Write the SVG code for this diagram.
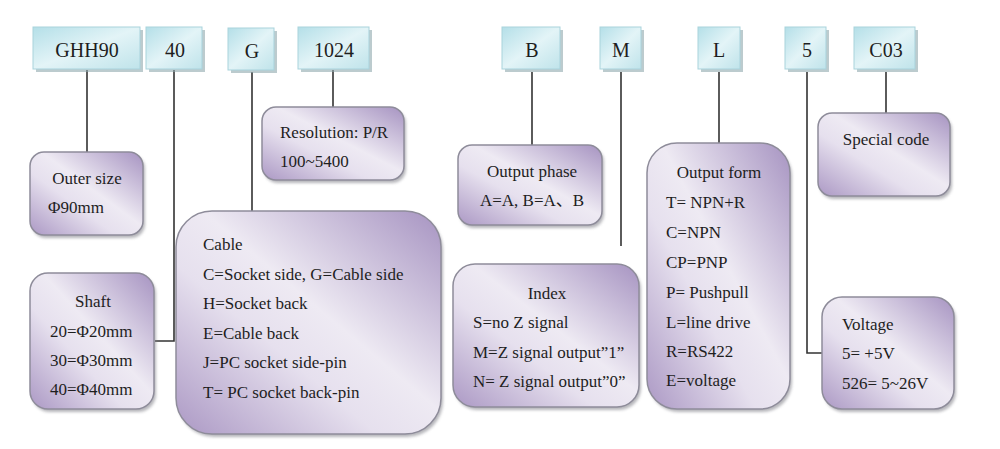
<svg xmlns="http://www.w3.org/2000/svg" width="1000" height="449" viewBox="0 0 1000 449">
<style>
text{font-family:"Liberation Serif",serif;fill:#1e1e1e}
.cjk{font-family:"Liberation Serif","Noto Sans CJK SC",serif}
.h{font-size:20px;text-anchor:middle}
.t{font-size:17px}
.c{text-anchor:middle}
.hb{fill:url(#cy);stroke:#a9d3dc;stroke-width:1}
.pb{fill:url(#pu);stroke:#8e8c9a;stroke-width:1.5}
.sh{fill:#85858d;opacity:.6;filter:url(#bl)}
.hs{fill:#8fa8ae;opacity:.6}
.ln{stroke:#333;stroke-width:1.6;fill:none}
</style>
<defs>
<linearGradient id="cy" x1="0" y1="0" x2="1" y2="1">
<stop offset="0" stop-color="#b4dfe8"/>
<stop offset="0.5" stop-color="#e3f4f7"/>
<stop offset="1" stop-color="#bfe3ea"/>
</linearGradient>
<linearGradient id="pu" x1="1" y1="0" x2="0" y2="1">
<stop offset="0" stop-color="#a693c1"/>
<stop offset="0.45" stop-color="#eeeaf3"/>
<stop offset="0.62" stop-color="#e6e0ee"/>
<stop offset="1" stop-color="#ab98c4"/>
</linearGradient>
<filter id="bl" x="-10%" y="-10%" width="120%" height="120%"><feGaussianBlur stdDeviation="1.5"/></filter>
</defs>
<rect width="1000" height="449" fill="#fff"/>

<g id="connectors">
<path class="ln" d="M87 70V152"/>
<path class="ln" d="M174 70V341H155"/>
<path class="ln" d="M252 72V211"/>
<path class="ln" d="M333 70V107"/>
<path class="ln" d="M532 72V145"/>
<path class="ln" d="M621 72V246"/>
<path class="ln" d="M719 72V143"/>
<path class="ln" d="M807 72V353H822"/>
<path class="ln" d="M886 72V113"/>
</g>

<g id="h-ghh90"><rect class="hs" x="36" y="30" width="107" height="42"/><rect class="hb" x="33" y="27" width="107" height="42"/><text class="h" x="87" y="57">GHH90</text></g>
<g id="h-40"><rect class="hs" x="149" y="30" width="56" height="42"/><rect class="hb" x="146" y="27" width="56" height="42"/><text class="h" x="175" y="57">40</text></g>
<g id="h-g"><rect class="hs" x="231" y="31" width="46" height="42"/><rect class="hb" x="228" y="28" width="46" height="42"/><text class="h" x="252" y="58">G</text></g>
<g id="h-1024"><rect class="hs" x="301" y="30" width="71" height="42"/><rect class="hb" x="298" y="27" width="71" height="42"/><text class="h" x="334" y="57">1024</text></g>
<g id="h-b"><rect class="hs" x="505" y="30" width="58" height="42"/><rect class="hb" x="502" y="27" width="58" height="42"/><text class="h" x="532" y="57">B</text></g>
<g id="h-m"><rect class="hs" x="603" y="30" width="41" height="42"/><rect class="hb" x="600" y="27" width="41" height="42"/><text class="h" x="621" y="57">M</text></g>
<g id="h-l"><rect class="hs" x="701" y="30" width="42" height="42"/><rect class="hb" x="698" y="27" width="42" height="42"/><text class="h" x="719" y="57">L</text></g>
<g id="h-5"><rect class="hs" x="788" y="30" width="41" height="42"/><rect class="hb" x="785" y="27" width="41" height="42"/><text class="h" x="807" y="57">5</text></g>
<g id="h-c03"><rect class="hs" x="857" y="30" width="61" height="42"/><rect class="hb" x="854" y="27" width="61" height="42"/><text class="h" x="886" y="57">C03</text></g>

<g id="outer-size"><rect class="sh" x="32" y="155" width="113" height="83" rx="14"/><rect class="pb" x="30" y="152" width="113" height="83" rx="14"/>
<text class="t c" x="87" y="184">Outer size</text><text class="t" x="48" y="213">Φ90mm</text></g>

<g id="shaft"><rect class="sh" x="32" y="276" width="124" height="136" rx="18"/><rect class="pb" x="30" y="273" width="124" height="136" rx="18"/>
<text class="t c" x="93" y="307">Shaft</text><text class="t" x="50" y="337">20=Φ20mm</text><text class="t" x="50" y="366">30=Φ30mm</text><text class="t" x="50" y="395">40=Φ40mm</text></g>

<g id="resolution"><rect class="sh" x="264" y="110" width="142" height="73" rx="14"/><rect class="pb" x="262" y="107" width="142" height="73" rx="14"/>
<text class="t" x="280" y="138">Resolution: P/R</text><text class="t" x="280" y="167">100~5400</text></g>

<g id="cable"><rect class="sh" x="178" y="214" width="265" height="223" rx="36"/><rect class="pb" x="176" y="211" width="265" height="223" rx="36"/>
<text class="t" x="203" y="250">Cable</text>
<text class="t" x="203" y="280">C=Socket side, G=Cable side</text>
<text class="t" x="203" y="309">H=Socket back</text>
<text class="t" x="203" y="339">E=Cable back</text>
<text class="t" x="203" y="368">J=PC socket side-pin</text>
<text class="t" x="203" y="398">T= PC socket back-pin</text></g>

<g id="output-phase"><rect class="sh" x="460" y="148" width="144" height="80" rx="14"/><rect class="pb" x="458" y="145" width="144" height="80" rx="14"/>
<text class="t c" x="532" y="177">Output phase</text><text class="t c cjk" x="532" y="206">A=A, B=A、B</text></g>

<g id="index"><rect class="sh" x="455" y="267" width="186" height="143" rx="22"/><rect class="pb" x="453" y="264" width="186" height="143" rx="22"/>
<text class="t c" x="547" y="299">Index</text>
<text class="t" x="473" y="328">S=no Z signal</text>
<text class="t" x="473" y="358">M=Z signal output”1”</text>
<text class="t" x="473" y="387">N= Z signal output”0”</text></g>

<g id="output-form"><rect class="sh" x="649" y="146" width="143" height="266" rx="30"/><rect class="pb" x="647" y="143" width="143" height="266" rx="30"/>
<text class="t c" x="719" y="178">Output form</text>
<text class="t" x="666" y="208">T= NPN+R</text>
<text class="t" x="666" y="238">C=NPN</text>
<text class="t" x="666" y="268">CP=PNP</text>
<text class="t" x="666" y="298">P= Pushpull</text>
<text class="t" x="666" y="328">L=line drive</text>
<text class="t" x="666" y="357">R=RS422</text>
<text class="t" x="666" y="386">E=voltage</text></g>

<g id="special-code"><rect class="sh" x="820" y="116" width="132" height="83" rx="14"/><rect class="pb" x="818" y="113" width="132" height="83" rx="14"/>
<text class="t c" x="886" y="145">Special code</text></g>

<g id="voltage"><rect class="sh" x="824" y="300" width="132" height="112" rx="20"/><rect class="pb" x="822" y="297" width="132" height="112" rx="20"/>
<text class="t" x="842" y="330">Voltage</text><text class="t" x="842" y="359">5= +5V</text><text class="t" x="842" y="389">526= 5~26V</text></g>
</svg>
